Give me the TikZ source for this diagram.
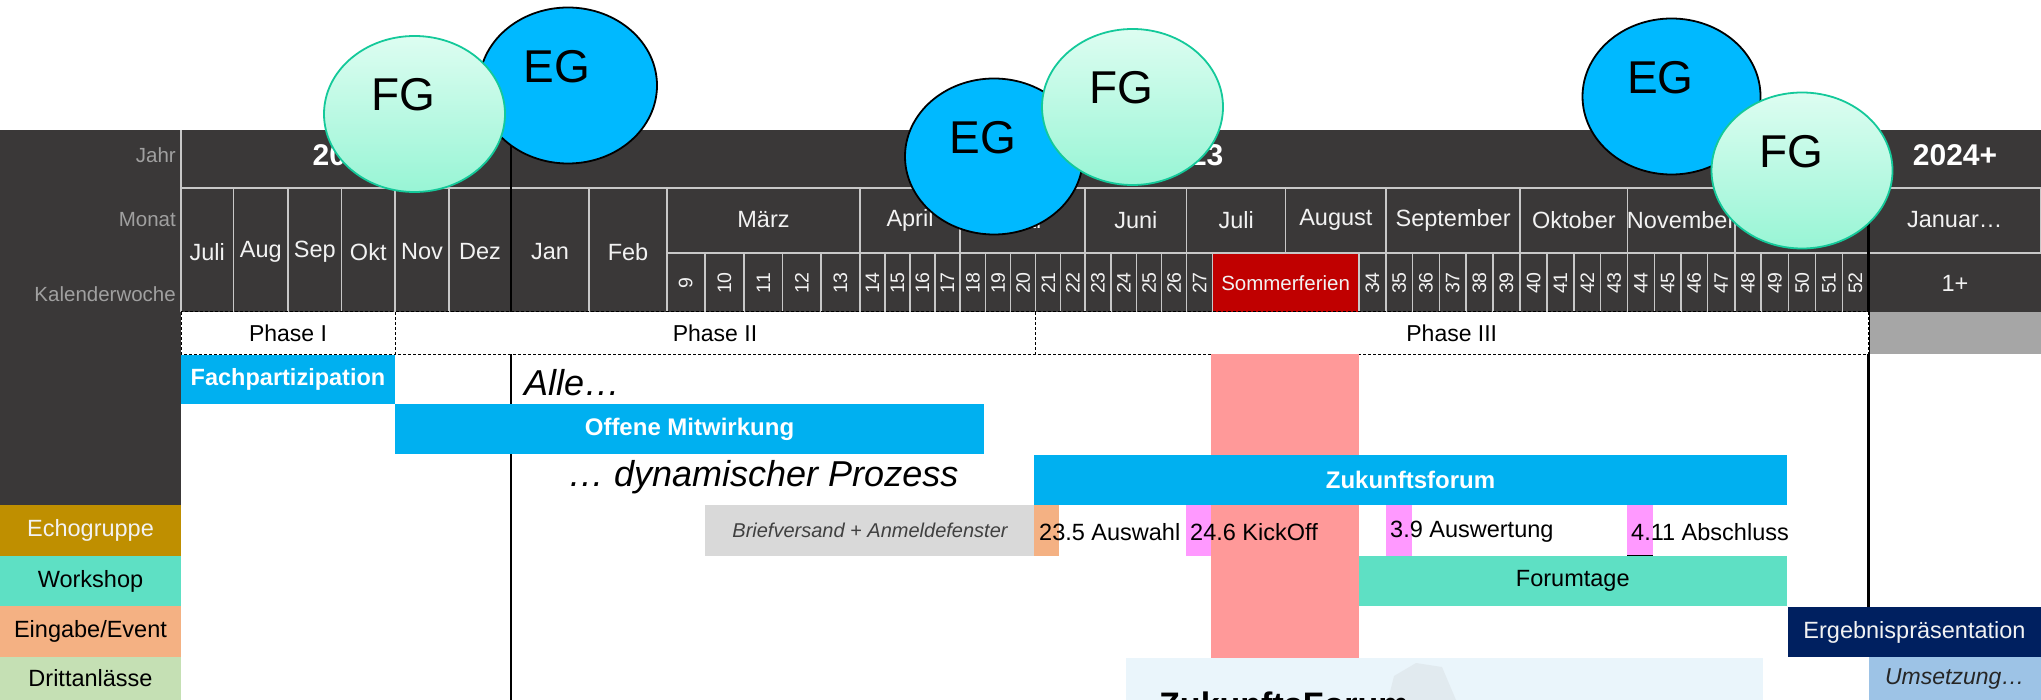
\documentclass[tikz,border=0pt]{standalone}
\usepackage{fontspec}
\setmainfont{Liberation Sans}
\usetikzlibrary{shapes.geometric}
\definecolor{hdrbg}{HTML}{3A3838}
\definecolor{gridc}{HTML}{C8C8C8}
\definecolor{cyanbar}{HTML}{00B0F0}
\definecolor{sred}{HTML}{C00000}
\definecolor{salmon}{HTML}{FF9999}
\definecolor{pinkm}{HTML}{FF99FF}
\definecolor{peach}{HTML}{F4B183}
\definecolor{turq}{HTML}{5EE0C4}
\definecolor{goldc}{HTML}{BF8F00}
\definecolor{lgreen}{HTML}{C5E0B4}
\definecolor{navyc}{HTML}{002060}
\definecolor{lblue}{HTML}{9DC3E6}
\definecolor{palec}{HTML}{EAF5FB}
\definecolor{egblue}{HTML}{00B9FF}
\definecolor{fgtop}{HTML}{DDFDF1}
\definecolor{fgbot}{HTML}{98F5D5}
\definecolor{fgline}{HTML}{14C99A}
\definecolor{lblc}{HTML}{A0A0A0}
\definecolor{briefgray}{HTML}{D9D9D9}
\definecolor{phasegray}{HTML}{A6A6A6}
\definecolor{htext}{HTML}{F2F2F2}
\definecolor{wmark}{HTML}{DCE3E8}
\newcommand\myfs[1]{\fontsize{#1}{#1}\selectfont}
\tikzset{
  gridl/.style={draw=gridc, line width=1.5pt},
  todayl/.style={draw=black, line width=2.5pt},
  hlabel/.style={inner sep=0pt, text=lblc, font=\myfs{20.5}, anchor=east},
  htxt/.style={inner sep=0pt, text=htext, font=\myfs{23.5}},
  kwtxt/.style={inner sep=0pt, text=htext, font=\myfs{19.5}, rotate=90},
  yeartxt/.style={inner sep=0pt, text=white, font=\bfseries\myfs{30}},
  phasebox/.style={fill=white, draw=black, line width=1pt, dash pattern=on 3pt off 2pt},
  bartxt/.style={inner sep=0pt, text=white, font=\bfseries\myfs{24}},
  plaintxt/.style={inner sep=0pt, text=black, font=\myfs{23.5}},
  bigit/.style={inner sep=0pt, text=black, font=\itshape\myfs{36}},
  egell/.style={ellipse, draw=black, line width=1.8pt, fill=egblue, inner sep=0pt, minimum width=178pt, minimum height=156pt},
  fgell/.style={ellipse, draw=fgline, line width=1.8pt, top color=fgtop, bottom color=fgbot, inner sep=0pt, minimum width=181pt, minimum height=156pt},
  elltxt/.style={inner sep=0pt, text=black, font=\myfs{46}},
}
\begin{document}
\begin{tikzpicture}[x=1pt,y=-1pt]
\useasboundingbox (0,0) rectangle (2041,700);
% backgrounds
\fill[hdrbg] (0,130) rectangle (2041,312);
\fill[hdrbg] (0,130) rectangle (181,505);
% left header labels
\node[hlabel] (ljahr) at (176,155) {Jahr};
\node[hlabel] (lmonat) at (176,220) {Monat};
\node[hlabel] (lkw) at (176,294) {Kalenderwoche};
% Sommerferien
\fill[sred] (1212.3,253) rectangle (1359,312);
\node[inner sep=0pt, text=htext, font=\myfs{20.5}] (sferien) at (1285.6,283) {Sommerferien};
% grid lines
\draw[gridl] (181,130) -- (181,312);
\draw[gridl] (181,188) -- (2041,188);
\draw[gridl] (667,253) -- (2041,253);
\foreach \a/\b/\m [count=\i] in {181/233.5/Juli, 233.5/288/Aug, 288/341.5/Sep, 341.5/395/Okt, 395/449/Nov, 449/511/Dez, 511/589/Jan, 589/667/Feb}{
  \draw[gridl] (\b,188) -- (\b,312);
  \node[htxt] (mf\i) at ({(\a+\b)/2},252) {\m};
}
\foreach \a/\b/\m [count=\i] in {667/860/März, 860/960/April, 960/1085/Mai, 1085/1186.6/Juni, 1186.6/1285.7/Juli, 1285.7/1386/August, 1386/1520.2/September, 1520.2/1627.5/Oktober, 1627.5/1734.8/November, 1868.5/2041/Januar…}{
  \draw[gridl] (\b,188) -- (\b,253);
  \node[htxt] (mk\i) at ({(\a+\b)/2},220) {\m};
}
\draw[gridl] (1734.8,188) -- (1734.8,253);
\foreach \a/\b/\n in {666.5/705/9, 705/744/10, 744/782.6/11, 782.6/821/12, 821/860/13, 860/885/14, 885/910/15, 910/935/16, 935/960/17, 960/985.7/18, 985.7/1010.7/19, 1010.7/1035.7/20, 1035.7/1060.7/21, 1060.7/1085/22, 1085/1111/23, 1111/1136.6/24, 1136.6/1161.6/25, 1161.6/1186.6/26, 1186.6/1212.3/27, 1359/1386/34, 1386/1412.5/35, 1412.5/1439.4/36, 1439.4/1466/37, 1466/1492.8/38, 1492.8/1520.2/39, 1520.2/1547/40, 1547/1574/41, 1574/1600.6/42, 1600.6/1627.5/43, 1627.5/1654.4/44, 1654.4/1681/45, 1681/1707.4/46, 1707.4/1734.8/47, 1734.8/1761/48, 1761/1788.6/49, 1788.6/1815.6/50, 1815.6/1842.5/51, 1842.5/1868.5/52}{
  \draw[gridl] (\a,253) -- (\a,312);
  \draw[gridl] (\b,253) -- (\b,312);
  \node[kwtxt] (kw\n) at ({(\a+\b)/2},283) {\n};
}
\node[htxt] (kwplus) at (1955,283) {1+};
% years
\node[yeartxt] (y22) at (346,155) {2022};
\node[yeartxt] (y23) at (1190,155) {2023};
\node[yeartxt] (y24) at (1955,155) {2024+};
% today lines
\draw[todayl] (511,130) -- (511,700);
\draw[todayl] (1868.5,130) -- (1868.5,607);
% phase row
\path[phasebox] (181,312) rectangle (395,354) node[pos=.5, inner sep=0pt, text=black, font=\myfs{23}] (ph1) {Phase I};
\path[phasebox] (395,312) rectangle (1035,354) node[pos=.5, inner sep=0pt, text=black, font=\myfs{23}] (ph2) {Phase II};
\path[phasebox] (1035,312) rectangle (1868.5,354) node[pos=.5, inner sep=0pt, text=black, font=\myfs{23}] (ph3) {Phase III};
\fill[phasegray] (1869.5,312) rectangle (2041,354);
% kickoff column
\fill[salmon] (1211,354) rectangle (1358.5,658);
% bars
\path[fill=cyanbar] (181,355) rectangle (395,404) node[pos=.5, bartxt, font=\bfseries\myfs{23.5}] (fach) {Fachpartizipation};
\node[bigit, anchor=west] (alle) at (524,383) {Alle…};
\path[fill=cyanbar] (395,404) rectangle (984,454) node[pos=.5, bartxt] (offen) {Offene Mitwirkung};
\node[bigit, anchor=west] (dyn) at (568,477) {… dynamischer Prozess};
\path[fill=cyanbar] (1034,455) rectangle (1787,505) node[pos=.5, bartxt] (zuk) {Zukunftsforum};
\path[fill=briefgray] (705,505) rectangle (1035,556) node[pos=.5, inner sep=0pt, text=black!75, font=\itshape\myfs{20}] (brief) {Briefversand + Anmeldefenster};
% milestones
\fill[peach] (1034,505) rectangle (1059,556);
\fill[pinkm] (1186,505) rectangle (1211,556);
\fill[pinkm] (1386,505) rectangle (1412,556);
\fill[pinkm] (1627,505) rectangle (1653,556);
\draw[black, line width=3pt] (1627,556) -- (1653,556);
\node[plaintxt, anchor=west] (m1) at (1039,532) {23.5 Auswahl};
\node[plaintxt, anchor=west] (m2) at (1190,532) {24.6 KickOff};
\node[plaintxt, anchor=west] (m3) at (1390,532) {3.9 Auswertung};
\node[plaintxt, anchor=west] (m4) at (1631,532) {4.11 Abschluss};
\path[fill=turq] (1358.5,556) rectangle (1787,606) node[pos=.5, plaintxt] (forum) {Forumtage};
\path[fill=navyc] (1788,607) rectangle (2041,657) node[pos=.5, plaintxt, text=htext] (erg) {Ergebnispräsentation};
\path[fill=lblue] (1868.5,657) rectangle (2041,700) node[pos=.5, plaintxt, font=\itshape\myfs{23}, text=black!85] (ums) {Umsetzung…};
% bottom info box
\fill[palec] (1126,658) rectangle (1763,700);
\fill[wmark, opacity=.6] (1388,700) -- (1394,676) -- (1416,663) -- (1442,667) -- (1456,700) -- cycle;
\node[inner sep=0pt, anchor=north west, text=black, font=\bfseries\myfs{34}] (zfbox) at (1159,692) {ZukunftsForum};
% left legend
\path[fill=goldc] (0,505) rectangle (181,556) node[pos=.5, plaintxt, text=htext] (lg1) {Echogruppe};
\path[fill=turq] (0,556) rectangle (181,606) node[pos=.5, plaintxt] (lg2) {Workshop};
\path[fill=peach] (0,606) rectangle (181,657) node[pos=.5, plaintxt] (lg3) {Eingabe/Event};
\path[fill=lgreen] (0,657) rectangle (181,700) node[pos=.5, plaintxt] (lg4) {Drittanlässe};
% ellipses
\node[egell] (eg1) at (568,85.5) {};
\node[elltxt] at ([xshift=-11pt,yshift=19pt]eg1.center) {EG};
\node[fgell] (fg1) at (414.5,114) {};
\node[elltxt] at ([xshift=-11pt,yshift=19pt]fg1.center) {FG};
\node[egell] (eg2) at (994,156.5) {};
\node[elltxt] at ([xshift=-11pt,yshift=19pt]eg2.center) {EG};
\node[fgell] (fg2) at (1132.5,107) {};
\node[elltxt] at ([xshift=-11pt,yshift=19pt]fg2.center) {FG};
\node[egell] (eg3) at (1671.5,96.5) {};
\node[elltxt] at ([xshift=-11pt,yshift=19pt]eg3.center) {EG};
\node[fgell] (fg3) at (1802,170.5) {};
\node[elltxt] at ([xshift=-11pt,yshift=19pt]fg3.center) {FG};
\end{tikzpicture}
\end{document}
